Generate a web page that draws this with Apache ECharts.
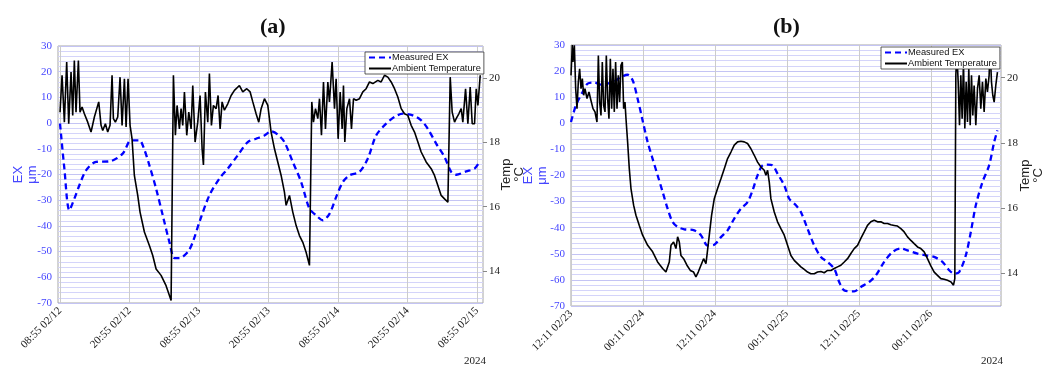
<!DOCTYPE html>
<html>
<head>
<meta charset="utf-8">
<script src="https://cdn.jsdelivr.net/npm/echarts@6/dist/echarts.min.js"></script>
<style>
  html, body { margin: 0; padding: 0; background: #fff; }
  #chart { width: 1053px; height: 365px; }
</style>
</head>
<body>
<div id="chart"></div>
<script>
// hours since the first tick of each panel
const tickHoursA = [0, 12, 24, 36, 48, 60, 72]
const tickLabelsA = ['08:55 02/12', '20:55 02/12', '08:55 02/13', '20:55 02/13', '08:55 02/14', '20:55 02/14', '08:55 02/15']
const tickHoursB = [0, 12, 24, 36, 48, 60]
const tickLabelsB = ['12:11 02/23', '00:11 02/24', '12:11 02/24', '00:11 02/25', '12:11 02/25', '00:11 02/26']
const tempTicks = [14, 16, 18, 20]

// panel (a) measured EX, µm
const exA = [[0,-0.2],[0.75,-17.7],[1.61,-33.9],[2.47,-29.4],[3.34,-24.2],[4.49,-18.4],[6.22,-15.1],[8.52,-14.9],[10.82,-11.9],[12.26,-6.7],[13.7,-6.7],[14.39,-9.3],[15.42,-16.4],[16.58,-25.5],[17.73,-35.9],[18.88,-46.3],[19.74,-52.5],[20.6,-52.5],[22.04,-50.2],[22.91,-46.3],[24.06,-38.5],[25.78,-28.1],[27.51,-21.6],[28.95,-17.7],[30.68,-12.5],[32.4,-7.4],[33.84,-6.1],[35.28,-4.8],[36.43,-3.2],[37.58,-4.5],[38.73,-7.4],[40.17,-15.1],[41.61,-22.9],[43.05,-33.3],[44.2,-35.9],[45.35,-37.8],[46.5,-35.3],[47.65,-28.8],[48.81,-22.9],[49.96,-20.3],[51.68,-19.0],[53.12,-13.8],[54.56,-4.8],[56.29,-0.2],[57.73,2.4],[59.17,3.7],[60.89,3.0],[62.33,1.1],[63.48,-2.2],[64.92,-8.0],[66.36,-13.2],[67.51,-19.0],[68.37,-20.1],[70.1,-18.8],[71.54,-17.7],[72.4,-15.1]]

// panel (a) ambient temperature, °C
const tempA = [[0,18.94],[0.35,20.09],[0.75,18.63],[1.15,20.50],[1.5,18.58],[1.9,20.19],[2.19,18.84],[2.47,20.55],[2.76,18.94],[3.17,20.55],[3.45,18.94],[3.8,19.10],[4.2,18.89],[4.78,18.63],[5.35,18.32],[5.93,18.79],[6.68,19.26],[7.08,18.53],[7.37,18.37],[7.83,18.58],[8.23,18.32],[8.63,18.53],[8.98,20.09],[9.21,18.74],[9.55,18.63],[9.96,18.79],[10.36,20.03],[10.71,18.53],[11.11,19.98],[11.4,18.48],[11.74,19.98],[12.09,18.53],
  [12.43,18.11],[12.83,16.97],[13.41,16.35],[13.81,15.83],[14.56,15.21],[15.42,14.79],[16.0,14.48],[16.58,14.06],[17.44,13.86],[18.3,13.54],[18.88,13.23],[19.17,13.08],[19.34,13.13],
  [19.57,20.09],[19.91,18.22],[20.2,19.15],[20.6,18.42],[20.89,19.05],[21.18,18.53],[21.47,19.57],[21.87,18.22],[22.22,18.94],[22.62,18.42],[22.91,19.77],[23.31,18.01],[23.77,18.63],[24.17,19.46],[24.52,17.80],[24.75,17.30],[25.09,19.57],[25.5,18.63],[25.78,20.14],[26.13,18.53],[26.47,19.15],[26.94,19.05],[27.28,19.46],[27.63,18.42],[27.97,19.26],[28.37,19.00],[28.95,19.20],[29.53,19.46],[30.1,19.62],[30.96,19.77],[31.54,19.57],[32.23,19.67],[32.81,19.57],[33.27,19.26],[33.84,18.89],[34.3,18.63],[34.71,19.05],[35.28,19.36],[35.86,19.15],[36.43,18.32],
  [37.01,17.80],[37.58,17.39],[38.16,16.97],[38.73,16.45],[39.02,16.04],[39.6,16.35],[40.17,15.83],[40.75,15.41],[41.32,15.10],[41.9,14.89],[42.47,14.58],[43.05,14.17],[43.22,14.12],
  [43.45,19.26],[43.74,18.63],[44.09,19.05],[44.49,18.74],[44.78,19.36],[45.12,18.22],[45.47,19.88],[45.81,18.42],[46.22,19.88],[46.5,19.26],[46.96,20.50],[47.37,19.05],[47.65,19.98],[48.0,18.11],[48.35,19.57],[48.69,18.42],[48.92,19.77],[49.15,18.01],[49.5,19.05],[49.96,19.36],[50.3,18.42],[50.65,19.36],[51.11,19.31],[51.68,19.36],[52.26,19.57],[52.83,19.67],[53.41,19.88],[53.99,19.83],[54.85,19.93],[55.42,19.88],[56.0,20.09],[56.58,20.03],[57.15,19.88],[57.73,19.67],[58.3,19.41],[58.88,19.05],[59.45,18.89],[60.03,18.84],[60.6,18.53],[61.18,18.32],[61.76,18.01],[62.33,17.70],[63.19,17.39],[64.06,17.18],[64.63,16.97],[65.21,16.66],[65.78,16.35],[66.36,16.24],[66.94,16.14],
  [67.34,20.03],[67.68,18.94],[68.09,18.63],[68.37,18.74],[68.83,18.89],[69.24,19.05],[69.52,18.63],[69.99,19.67],[70.39,18.58],[70.79,19.72],[71.14,18.58],[71.54,18.58],[71.83,19.67],[72.12,19.15],[72.52,20.09]]

// panel (b) measured EX, µm
const exB = [[0,0.5],[0.83,6.9],[1.94,12.0],[2.78,15.2],[3.89,15.6],[5.0,14.8],[6.11,15.2],[7.22,16.1],[8.33,17.7],[9.44,18.6],[10.28,16.5],[11.11,9.4],[11.94,1.1],[12.78,-7.2],[13.61,-13.6],[14.44,-19.9],[15.28,-26.3],[16.11,-32.7],[16.94,-37.8],[17.78,-39.7],[18.89,-40.6],[20.56,-41.0],[21.67,-42.9],[22.78,-46.8],[23.89,-46.5],[25.0,-43.6],[26.11,-41.0],[27.22,-36.5],[28.33,-32.7],[29.44,-30.2],[30.28,-25.7],[31.11,-19.9],[31.94,-16.1],[32.78,-15.8],[33.61,-16.1],[34.44,-19.3],[35.56,-23.8],[36.39,-28.9],[37.5,-31.4],[38.33,-34.0],[39.44,-40.4],[40.56,-46.8],[41.67,-51.2],[42.78,-53.1],[43.89,-55.7],[44.72,-60.8],[45.56,-64.0],[47.22,-64.4],[48.33,-62.7],[49.72,-60.8],[50.83,-58.3],[52.22,-53.1],[53.61,-49.3],[55.0,-48.0],[56.11,-48.7],[57.78,-49.9],[59.17,-50.6],[60.56,-51.2],[61.94,-53.1],[63.06,-56.3],[63.89,-57.6],[64.72,-57.0],[65.83,-50.6],[66.67,-41.6],[67.5,-31.4],[68.61,-22.5],[69.72,-16.1],[70.56,-7.2],[71.11,-2.7]]

// panel (b) ambient temperature, °C
const tempB = [[0,20.07],[0.22,21.0],[0.33,20.48],[0.56,20.99],[0.78,19.66],[1.0,19.05],[1.22,19.87],[1.44,20.27],[1.67,19.66],[1.89,19.97],[2.11,19.46],[2.33,19.66],[2.67,19.36],[3.0,19.56],[3.33,19.30],[3.67,19.05],[4.0,18.95],[4.33,18.64],[4.56,20.68],[4.78,19.25],[5.0,18.84],[5.22,20.48],[5.44,19.15],[5.67,18.95],[5.89,20.68],[6.11,19.36],[6.33,18.74],[6.56,20.58],[6.78,19.05],[7.0,20.27],[7.22,18.95],[7.44,20.48],[7.67,19.05],[7.89,20.07],[8.11,19.25],[8.33,20.38],[8.56,20.48],[8.78,19.05],[9.0,19.25],
  [9.17,18.74],[9.44,18.03],[9.72,17.21],[10.0,16.60],[10.44,16.09],[10.83,15.78],[11.39,15.47],[11.94,15.17],[12.78,14.86],[13.61,14.66],[14.44,14.35],[15.28,14.15],[15.83,14.04],[16.39,14.35],[16.67,14.86],[17.11,14.96],[17.5,14.76],[17.78,15.12],[18.06,14.96],[18.33,14.55],[18.78,14.45],[19.33,14.25],[19.89,14.09],[20.44,14.04],[20.83,13.89],[21.22,14.04],[21.67,14.25],[22.11,14.45],[22.5,14.30],[22.67,14.55],[23.06,15.17],[23.44,15.78],[23.89,16.29],[24.44,16.60],[25.0,16.90],[25.56,17.21],[26.11,17.52],[26.67,17.72],[27.22,17.93],[27.78,18.03],[28.33,18.05],[28.89,18.03],[29.44,17.98],[30.0,17.82],[30.56,17.62],[31.11,17.41],[31.67,17.26],[32.22,17.16],[32.5,17.01],[32.78,17.16],[33.06,16.80],[33.33,16.29],[33.89,15.88],[34.44,15.58],[35.0,15.37],[35.56,15.17],[36.11,14.86],[36.67,14.55],[37.22,14.40],[37.78,14.30],[38.33,14.20],[38.89,14.12],[39.44,14.04],[40.0,13.99],[40.56,13.99],[41.11,14.04],[41.67,14.06],[42.22,14.02],[42.78,14.09],[43.33,14.09],[43.89,14.15],[44.44,14.20],[45.0,14.25],[45.56,14.35],[46.11,14.45],[46.67,14.61],[47.22,14.76],[47.78,14.86],[48.33,15.07],[48.89,15.27],[49.44,15.47],[50.0,15.58],[50.56,15.63],[51.11,15.58],[51.67,15.58],[52.22,15.53],[52.78,15.53],[53.33,15.49],[53.89,15.47],[54.44,15.45],[55.0,15.37],[55.56,15.27],[56.11,15.12],[56.67,15.01],[57.22,14.91],[57.78,14.81],[58.33,14.76],[58.89,14.66],[59.44,14.45],[60.0,14.23],[60.56,14.04],[61.11,13.94],[61.67,13.84],[62.22,13.82],[62.78,13.79],[63.33,13.74],[63.78,13.64],[64.0,13.84],
  [64.17,20.07],[64.33,20.79],[64.56,19.87],[64.78,18.54],[65.0,20.07],[65.22,18.74],[65.44,20.48],[65.67,18.44],[65.89,19.87],[66.11,18.64],[66.33,20.27],[66.56,18.54],[66.78,20.07],[67.0,18.84],[67.22,19.76],[67.5,18.54],[67.78,19.66],[68.06,20.07],[68.33,19.05],[68.61,19.87],[68.89,18.95],[69.17,19.97],[69.44,19.56],[69.72,20.07],[69.89,20.94],[70.11,19.87],[70.33,19.46],[70.56,19.25],[70.83,19.76],[71.11,20.17]]

const BLUE = '#0000ff'
const AXIS_BLUE = '#4646ff'
const SERIF = 'Liberation Serif'
const SANS = 'Liberation Sans'

const chart = echarts.init(document.getElementById('chart'), null, { renderer: 'canvas' })

function xAxis(gridIndex, min, max, ticks, labels) {
  return {
    type: 'value', gridIndex, min, max,
    axisLine: { show: false },
    axisTick: { show: false, customValues: ticks },
    axisLabel: {
      customValues: ticks, rotate: 45, margin: 6,
      fontFamily: SERIF, fontSize: 11, color: '#222',
      formatter: (v) => labels[ticks.indexOf(v)] ?? ''
    },
    splitLine: { show: true, lineStyle: { color: '#cccccc', width: 1 } }
  }
}

function leftAxis(gridIndex, gap) {
  return {
    type: 'value', gridIndex, min: -70, max: 30, interval: 10,
    name: 'EX\nμm', nameLocation: 'middle', nameGap: gap, nameRotate: 90, nameMoveOverlap: false,
    nameTextStyle: { color: AXIS_BLUE, fontFamily: SANS, fontSize: 13, lineHeight: 14 },
    axisLine: { show: false },
    axisTick: { show: false },
    axisLabel: { color: AXIS_BLUE, fontFamily: SERIF, fontSize: 11, margin: 6 },
    splitLine: { show: true, lineStyle: { color: '#c4c4f4', width: 1 } },
    minorTick: { show: false, splitNumber: 5 },
    minorSplitLine: { show: true, lineStyle: { color: '#d4d4fa', width: 1 } }
  }
}

function rightAxis(gridIndex, gap) {
  return {
    type: 'value', gridIndex, position: 'right', min: 13, max: 21,
    name: 'Temp\n°C', nameLocation: 'middle', nameGap: gap, nameRotate: 90, nameMoveOverlap: false,
    nameTextStyle: { color: '#222', fontFamily: SANS, fontSize: 13, lineHeight: 13 },
    axisLine: { show: false },
    axisTick: { show: true, customValues: tempTicks, length: 4, lineStyle: { color: '#888' } },
    axisLabel: { customValues: tempTicks, color: '#222', fontFamily: SERIF, fontSize: 11, margin: 6 },
    splitLine: { show: false }
  }
}

function exSeries(xi, yi, data) {
  return {
    name: 'Measured EX', type: 'line', xAxisIndex: xi, yAxisIndex: yi, data,
    symbol: 'none', smooth: 0.3, z: 2,
    lineStyle: { color: BLUE, width: 2.3, type: [6, 4] }, itemStyle: { color: BLUE }
  }
}

function tempSeries(xi, yi, data) {
  return {
    name: 'Ambient Temperature', type: 'line', xAxisIndex: xi, yAxisIndex: yi, data,
    symbol: 'none', z: 3,
    lineStyle: { color: '#000', width: 1.6 }, itemStyle: { color: '#000' }
  }
}

function legend(left, top) {
  return {
    orient: 'vertical', left, top, itemGap: 2, itemWidth: 22, itemHeight: 10,
    padding: [1, 3, 1, 3], backgroundColor: '#fff', borderColor: '#333', borderWidth: 0.8,
    itemStyle: { opacity: 0 },
    textStyle: { fontFamily: SANS, fontSize: 9.3, color: '#111', padding: [0, 0, 0, -4] },
    data: ['Measured EX', 'Ambient Temperature']
  }
}

const titleRich = {
  p: { fontFamily: SERIF, fontSize: 22, color: '#111' },
  b: { fontFamily: SERIF, fontSize: 22, fontWeight: 'bold', color: '#111' }
}

chart.setOption({
  animation: false,
  title: [
    { text: '{p|(}{b|a}{p|)}', left: 255, top: 11, textStyle: { rich: titleRich } },
    { text: '{p|(}{b|b}{p|)}', left: 768, top: 11, textStyle: { rich: titleRich } },
    { text: '2024', left: 459, top: 351, textStyle: { fontFamily: SERIF, fontSize: 11, fontWeight: 'normal', color: '#222' } },
    { text: '2024', left: 976, top: 351, textStyle: { fontFamily: SERIF, fontSize: 11, fontWeight: 'normal', color: '#222' } }
  ],
  legend: [legend(365, 52), legend(881, 47)],
  grid: [
    { left: 58, top: 46, width: 425, height: 257, show: true, borderColor: '#a6a6a6', borderWidth: 1, backgroundColor: 'transparent' },
    { left: 571, top: 45, width: 430, height: 261, show: true, borderColor: '#a6a6a6', borderWidth: 1, backgroundColor: 'transparent' }
  ],
  xAxis: [
    xAxis(0, -0.35, 73.0, tickHoursA, tickLabelsA),
    xAxis(1, 0, 71.7, tickHoursB, tickLabelsB)
  ],
  yAxis: [leftAxis(0, 19), rightAxis(0, 17), leftAxis(1, 22), rightAxis(1, 18)],
  series: [
    exSeries(0, 0, exA),
    tempSeries(0, 1, tempA),
    exSeries(1, 2, exB),
    tempSeries(1, 3, tempB)
  ]
})
</script>
</body>
</html>
